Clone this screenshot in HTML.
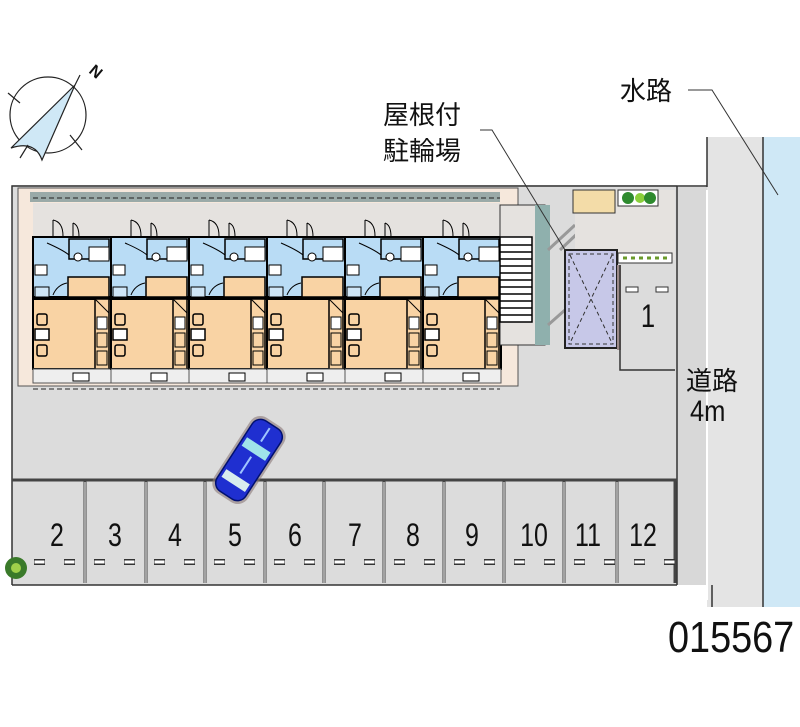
<!DOCTYPE html>
<html><head><meta charset="utf-8"><style>
html,body{margin:0;padding:0;background:#fff}
svg{display:block}
text{font-family:"Liberation Sans","Noto Sans CJK JP",sans-serif;fill:#111}
</style></head><body>
<svg width="800" height="727" viewBox="0 0 800 727" xmlns="http://www.w3.org/2000/svg">
<defs>
<g id="u">
  <rect x="0" y="12" width="78" height="60" fill="#b9dcf5" stroke="#000" stroke-width="2"/>
  <rect x="36" y="14" width="40" height="20" fill="#b9dcf5" stroke="#000" stroke-width="1.5"/>
  <rect x="56" y="22" width="20" height="14" fill="#fff" stroke="#000"/>
  <rect x="35" y="52" width="41" height="20" fill="#f9d3a4" stroke="#000" stroke-width="1.5"/>
  <rect x="2" y="62" width="14" height="10" fill="#cfe6f7" stroke="#000"/>
  <rect x="2" y="40" width="12" height="10" fill="#fff" stroke="#000"/>
  <path d="M14 18 Q30 25 36 30 M20 70 Q24 60 34 58" fill="none" stroke="#000"/>
  <path d="M20 -5 v17 M20 -5 q10 2 10 16 M40 -2 v14 M40 -2 q6 2 6 14" fill="none" stroke="#000" stroke-width="1"/>
  <circle cx="45" cy="32" r="4" fill="#fff" stroke="#000"/>
  <rect x="0" y="74" width="78" height="70" fill="#f9d3a4" stroke="#000" stroke-width="2"/>
  <rect x="62" y="74" width="14" height="70" fill="#f9d3a4" stroke="#000" stroke-width="1.5"/>
  <path d="M62 74 L76 88" stroke="#000"/>
  <rect x="64" y="92" width="10" height="12" fill="#fff" stroke="#000"/>
  <rect x="64" y="108" width="10" height="14" fill="#f9d3a4" stroke="#000"/>
  <rect x="64" y="126" width="10" height="14" fill="#f9d3a4" stroke="#000"/>
  <rect x="4" y="89" width="10" height="11" rx="2" fill="#f9d3a4" stroke="#000" stroke-width="1.5"/>
  <rect x="2" y="104" width="14" height="11" fill="#fff" stroke="#000" stroke-width="1.5"/>
  <rect x="4" y="120" width="10" height="11" rx="2" fill="#f9d3a4" stroke="#000" stroke-width="1.5"/>
  <rect x="0" y="144" width="78" height="14" fill="#eeeeee" stroke="#555"/>
  <rect x="40" y="148" width="16" height="8" fill="#fff" stroke="#000"/>
</g>
</defs>
<!-- lot -->
<rect x="12" y="185" width="665" height="400" fill="#dcdcdc"/>
<path d="M12 585 V186 H707" fill="none" stroke="#333" stroke-width="1.5"/>
<path d="M12 585 H677" stroke="#333" stroke-width="1.5"/>
<!-- road -->
<rect x="677" y="187" width="35" height="398" fill="#d8d8d8"/>
<rect x="707" y="137" width="56" height="470" fill="#e4e4e4"/>
<rect x="763" y="137" width="37" height="470" fill="#cfe8f6"/>
<path d="M707 137 V187 M763 137 V607 M677 186 V585 M712 585 V607" stroke="#333" stroke-width="1.5" fill="none"/>
<path d="M707 190 V600" stroke="#fff" stroke-width="2"/>
<!-- building -->
<rect x="18" y="188" width="500" height="198" fill="#f6e8dc" stroke="#555"/>
<rect x="30" y="192" width="470" height="10" fill="#9aaaa8"/>
<rect x="33" y="203" width="467" height="34" fill="#e5e2df"/>
<path d="M33 198 H500 M33 389 H500" stroke="#222" stroke-dasharray="5 3"/>
<use href="#u" x="33" y="225"/>
<use href="#u" x="111" y="225"/>
<use href="#u" x="189" y="225"/>
<use href="#u" x="267" y="225"/>
<use href="#u" x="345" y="225"/>
<use href="#u" x="423" y="225"/>
<!-- stairs -->
<rect x="500" y="205" width="45" height="140" fill="#e5e2df" stroke="#333"/>
<rect x="535" y="205" width="15" height="140" fill="#8fb0ad"/>
<g stroke="#000" stroke-width="1.5">
<rect x="500" y="237" width="32" height="85" fill="#fff"/>
<path d="M500 245H532M500 252H532M500 259H532M500 266H532M500 273H532M500 280H532M500 287H532M500 294H532M500 301H532M500 308H532M500 315H532"/>
</g>
<path d="M548 250 L575 225 M548 325 L565 310 M560 250 L600 212" stroke="#999" stroke-width="3"/>
<rect x="575" y="190" width="100" height="70" fill="#e5e2df"/>
<rect x="573" y="190" width="42" height="23" fill="#f3dca8" stroke="#333"/>
<rect x="618" y="190" width="40" height="16" fill="#fff" stroke="#333"/>
<circle cx="628" cy="198" r="6" fill="#2e8a2e"/><circle cx="640" cy="198" r="5" fill="#8bcf3a"/><circle cx="650" cy="198" r="6" fill="#2e8a2e"/>
<rect x="618" y="253" width="54" height="10" fill="#fff" stroke="#333"/>
<path d="M623 258h45" stroke="#6a9a2a" stroke-width="3" stroke-dasharray="4 4"/>
<!-- bike shelter -->
<rect x="565" y="250" width="52" height="98" fill="#c7c8e8" stroke="#222" stroke-width="2"/>
<path d="M570 255 L612 343 M612 255 L570 343" stroke="#333" stroke-dasharray="4 3"/>
<rect x="569" y="254" width="44" height="90" fill="none" stroke="#333" stroke-dasharray="4 3"/>
<!-- space 1 -->
<rect x="617" y="265" width="4" height="85" fill="#9b8a88"/>
<path d="M620 265 V370 H675" fill="none" stroke="#333" stroke-width="1.5"/>
<rect x="626" y="287" width="12" height="5" fill="#fff" stroke="#333"/>
<rect x="656" y="287" width="12" height="5" fill="#fff" stroke="#333"/>
<text x="648" y="327" font-size="32" text-anchor="middle" transform="translate(648 0) scale(0.8 1) translate(-648 0)">1</text>
<!-- parking -->
<g stroke="#444" stroke-width="3" fill="none">
<path d="M12 480 H677"/>
<path d="M85 480V583M146 480V583M205 480V583M265 480V583M324 480V583M384 480V583M444 480V583M504 480V583M564 480V583M617 480V583M675 480V583"/>
</g>
<g stroke="#fff" stroke-width="1" fill="none">
<path d="M85 482V583M146 482V583M205 482V583M265 482V583M324 482V583M384 482V583M444 482V583M504 482V583M564 482V583M617 482V583"/>
</g>
<path d="M34 562 H675" stroke="#333" stroke-width="6" stroke-dasharray="11 19"/>
<path d="M34 562 H675" stroke="#fff" stroke-width="3" stroke-dasharray="10 20" stroke-dashoffset="-0.5"/>
<g font-size="32" text-anchor="middle">
<text transform="translate(57 546) scale(0.78 1)">2</text>
<text transform="translate(115 546) scale(0.78 1)">3</text>
<text transform="translate(175 546) scale(0.78 1)">4</text>
<text transform="translate(235 546) scale(0.78 1)">5</text>
<text transform="translate(295 546) scale(0.78 1)">6</text>
<text transform="translate(355 546) scale(0.78 1)">7</text>
<text transform="translate(413 546) scale(0.78 1)">8</text>
<text transform="translate(472 546) scale(0.78 1)">9</text>
<text transform="translate(534 546) scale(0.78 1)">10</text>
<text transform="translate(588 546) scale(0.78 1)">11</text>
<text transform="translate(643 546) scale(0.78 1)">12</text>
</g>
<!-- tree -->
<circle cx="16" cy="568" r="11" fill="#3a7a2a"/><circle cx="16" cy="568" r="5" fill="#9fd04a"/>
<!-- car -->
<g transform="translate(249,460) rotate(33)">
<rect x="-20" y="-45" width="40" height="90" rx="12" fill="#8a7878" opacity="0.6"/>
<rect x="-17" y="-42" width="34" height="84" rx="10" fill="#1f2fd0" stroke="#001070" stroke-width="1.5"/>
<rect x="-14" y="-18" width="28" height="10" fill="#9fe3ea"/>
<rect x="-14" y="20" width="28" height="9" fill="#d8ecee"/>
<path d="M0 -38 V-22 M0 -4 V16" stroke="#9fc4ff" stroke-width="2"/>
</g>
<!-- compass -->
<g fill="none" stroke="#222" stroke-width="1.2">
<circle cx="48" cy="115" r="38"/>
<path d="M11 148 L75 85 L42 160 Q35 140 11 148 Z" fill="#cfe8f6"/>
<path d="M8 93 L20 103 M70 135 L82 150 M20 158 L28 145 M75 85 L80 75"/>
</g>
<text x="88" y="72" font-size="16" font-weight="bold" transform="rotate(40 88 72)">N</text>
<!-- labels -->
<g font-size="26">
<text x="383" y="124">屋根付</text>
<text x="383" y="160">駐輪場</text>
<text x="620" y="100">水路</text>
<text x="686" y="390">道路</text>
</g>
<text font-size="30" transform="translate(690 421) scale(0.85 1)">4m</text>
<path d="M480 130 H492 L565 250" stroke="#333" fill="none"/>
<path d="M688 90 H712 L778 195" stroke="#333" fill="none"/>
<text font-size="44" transform="translate(668 652) scale(0.86 1)">015567</text>
</svg>
</body></html>
